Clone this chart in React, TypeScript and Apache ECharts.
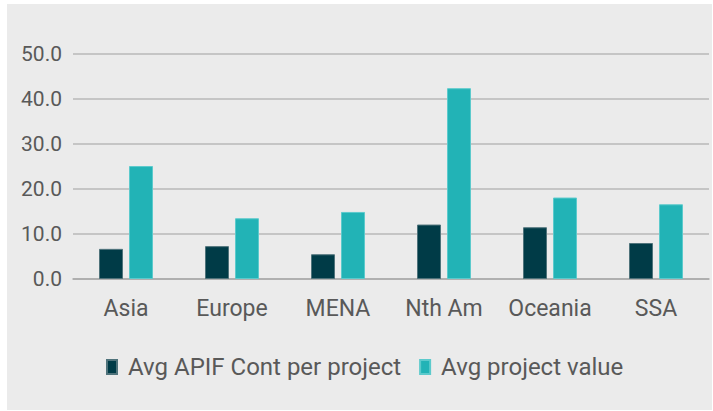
import React, { useEffect, useRef } from "react";
import * as echarts from "echarts";

const categories = ["Asia", "Europe", "MENA", "Nth Am", "Oceania", "SSA"];
const seriesNames = ["Avg APIF Cont per project", "Avg project value"];
const apifCont = [6.7, 7.3, 5.5, 12.1, 11.5, 8.0];
const projectValue = [25.1, 13.5, 14.9, 42.4, 18.1, 16.6];
const yTicks = { min: 0, max: 50, interval: 10 };

const TEXT = "#595959";
const FONT = "Roboto";

export default function App() {
  const ref = useRef<HTMLDivElement>(null);
  useEffect(() => {
    if (!ref.current) return;
    const chart = echarts.init(ref.current, null, { renderer: "svg" });
    chart.setOption({
      animation: false,
      backgroundColor: "#ebebeb",
      textStyle: { fontFamily: FONT },
      grid: { left: 66, right: 3, top: 50, bottom: 131, containLabel: false },
      legend: {
        left: 99,
        top: 351,
        padding: 0,
        icon: "rect",
        itemWidth: 10,
        itemHeight: 14,
        itemGap: 18,
        textStyle: { color: TEXT, fontSize: 24, fontFamily: FONT, padding: [0, 0, 0, 6] },
        data: seriesNames,
      },
      xAxis: {
        type: "category",
        data: categories,
        axisTick: { show: false },
        axisLine: { show: true, lineStyle: { color: "#a8a8a8", width: 1.5 } },
        axisLabel: { color: TEXT, fontSize: 23, fontFamily: FONT, margin: 18, interval: 0 },
      },
      yAxis: {
        type: "value",
        min: yTicks.min,
        max: yTicks.max,
        interval: yTicks.interval,
        axisLine: { show: false },
        axisTick: { show: false },
        splitLine: { lineStyle: { color: "#b9b9b9", width: 1.5 } },
        axisLabel: {
          color: TEXT,
          fontSize: 21,
          fontFamily: FONT,
          margin: 11,
          formatter: (v: number) => v.toFixed(1),
        },
      },
      series: [
        {
          name: seriesNames[0],
          type: "bar",
          data: apifCont,
          barWidth: 24,
          barGap: "25%",
          itemStyle: { color: "#003b47", borderColor: "#4f737b", borderWidth: 1 },
        },
        {
          name: seriesNames[1],
          type: "bar",
          data: projectValue,
          barWidth: 24,
          barGap: "25%",
          itemStyle: { color: "#22b3b6", borderColor: "#5ccacc", borderWidth: 1 },
        },
      ],
    });
    return () => chart.dispose();
  }, []);
  return (
    <div style={{ position: "absolute", left: 0, top: 0, width: 713, height: 411, background: "#ffffff" }}>
      <div
        ref={ref}
        style={{ position: "absolute", left: 7, top: 4, width: 705, height: 406 }}
      />
    </div>
  );
}
